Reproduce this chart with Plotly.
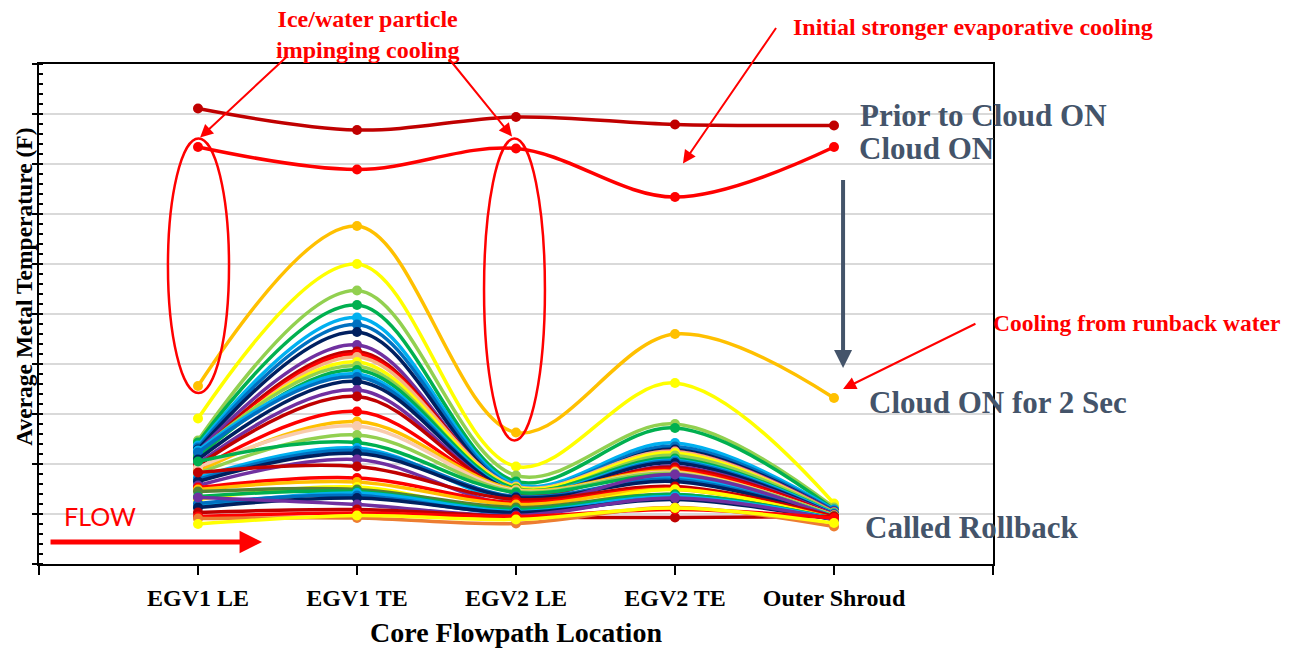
import plotly.graph_objects as go

# ---------------- data ----------------
categories = ["EGV1 LE", "EGV1 TE", "EGV2 LE", "EGV2 TE", "Outer Shroud"]

# one value per time step (series), oldest first; y units are relative (10 per gridline)
egv1_le = [91.1, 83.4, 35.6, 29.1, 24.7, 24.3, 23.7, 23.3, 22.9, 22.5,
           21.9, 21.3, 21.1, 21.9, 22.5, 21.5, 22.7, 22.3, 20.9, 20.1,
           19.7, 18.9, 18.5, 19.3, 18.1, 20.5, 17.3, 16.9, 16.5, 15.7,
           18.3, 15.3, 14.9, 12.9, 14.5, 13.5, 11.5, 12.1, 11.3, 13.3,
           10.3, 9.5, 9.1, 8.0]
egv1_te = [86.8, 78.9, 67.6, 60.0, 54.7, 51.8, 49.3, 47.9, 46.4, 43.8,
           42.5, 42.0, 41.4, 40.4, 39.6, 38.8, 38.0, 37.4, 36.5, 34.8,
           33.5, 30.5, 28.5, 27.6, 25.8, 24.3, 23.2, 22.7, 22.1, 20.9,
           19.5, 17.2, 16.4, 15.4, 14.9, 14.5, 14.2, 13.7, 13.2, 11.9,
           10.9, 10.2, 9.2, 9.7]
egv2_le = [89.4, 83.1, 26.3, 19.5, 17.7, 16.5, 15.9, 15.5, 15.1, 14.9,
           15.3, 15.1, 15.5, 15.3, 14.9, 15.1, 14.7, 14.5, 14.5, 14.1,
           14.3, 14.5, 14.9, 14.7, 14.5, 14.3, 12.7, 13.5, 13.3, 11.9,
           12.9, 12.3, 11.9, 10.3, 11.3, 10.9, 10.5, 10.1, 10.3, 9.7,
           9.5, 9.5, 8.1, 8.9]
egv2_te = [87.9, 73.4, 46.0, 36.2, 28.0, 27.2, 24.2, 23.5, 22.9, 22.5,
           22.5, 22.1, 22.5, 22.2, 21.7, 21.1, 20.7, 20.5, 20.2, 19.5,
           19.3, 18.9, 18.5, 18.3, 18.1, 17.7, 17.3, 16.9, 16.5, 17.9,
           15.5, 15.1, 14.9, 14.9, 13.9, 13.9, 13.5, 13.1, 12.9, 13.2,
           9.3, 10.9, 11.3, 11.2]
outer_shroud = [87.7, 83.4, 33.2, 12.1, 11.3, 10.9, 10.9, 10.7, 10.5, 10.5,
                10.3, 10.3, 10.3, 10.1, 10.3, 10.1, 10.1, 9.9, 9.9, 9.9,
                9.7, 9.7, 9.5, 9.7, 9.7, 9.5, 9.5, 9.3, 9.3, 9.3,
                9.5, 9.2, 9.1, 8.9, 9.1, 9.1, 9.1, 8.9, 8.9, 8.9,
                9.5, 9.2, 7.5, 8.2]

series_colors = [
    "#C00000", "#FF0000", "#FFC000", "#FFFF00", "#92D050", "#00B050", "#00B0F0", "#0070C0", "#002060", "#7030A0",
    "#C00000", "#FF0000", "#F4B183", "#FFFF00", "#92D050", "#00B050", "#00B0F0", "#0070C0", "#002060", "#7030A0",
    "#C00000", "#FF0000", "#FFC000", "#F8CBAD", "#92D050", "#00B050", "#00B0F0", "#0070C0", "#002060", "#7030A0",
    "#C00000", "#FF0000", "#FFC000", "#FFFF00", "#548235", "#00B050", "#00B0F0", "#0070C0", "#002060", "#7030A0",
    "#C00000", "#FF0000", "#ED7D31", "#FFFF00"]

# ---------------- figure ----------------
SERIF = "Liberation Serif"
SLATE = "#44546A"
RED = "#FF0000"

fig = go.Figure()
x_idx = list(range(len(categories)))
for i, col in enumerate(series_colors):
    yv = [egv1_le[i], egv1_te[i], egv2_le[i], egv2_te[i], outer_shroud[i]]
    fig.add_trace(go.Scatter(
        x=x_idx, y=yv, mode="lines+markers",
        line=dict(color=col, width=3.5, shape="spline", smoothing=1),
        marker=dict(color=col, size=10),
        name=f"t{i}", hoverinfo="y",
    ))

annotations = []
# axis title (y) placed as text, offset like reference
annotations.append(dict(
    text="Average Metal Temperature (F)", textangle=-90,
    xref="paper", x=-0.016, yref="paper", y=0.554, showarrow=False,
    font=dict(family=SERIF, size=23.5, color="black", weight="bold"),
    xanchor="center", yanchor="middle"))

# red commentary (above the plot area -> paper coords)
annotations.append(dict(
    text="Ice/water particle<br>impinging cooling", xref="paper", yref="paper",
    x=(1.063 + 1) / 6, y=1.059, xanchor="center", yanchor="middle",
    showarrow=False, align="center",
    font=dict(family=SERIF, size=24, color=RED, weight="bold")))
annotations.append(dict(
    text="Initial stronger evaporative cooling", xref="paper", yref="paper",
    x=(3.73 + 1) / 6, y=1.075, xanchor="left", yanchor="middle", showarrow=False,
    font=dict(family=SERIF, size=24, color=RED, weight="bold")))
annotations.append(dict(
    text="Cooling from runback water", xref="x", yref="y",
    x=4.987, y=48.2, xanchor="left", yanchor="middle", showarrow=False,
    font=dict(family=SERIF, size=23.5, color=RED, weight="bold")))
annotations.append(dict(
    text="FLOW", xref="x", yref="y", x=-0.855, y=9.6, xanchor="left",
    yanchor="middle", showarrow=False, font=dict(family="Lato", size=25, color=RED)))

# state labels at right
for txt, xx, yy in [("Prior to Cloud ON", 4.151, 89.7), ("Cloud ON", 4.145, 83.1),
                    ("Cloud ON for 2 Sec", 4.208, 32.4), ("Called Rollback", 4.182, 7.3)]:
    annotations.append(dict(
        text=txt, xref="x", yref="y", x=xx, y=yy, xanchor="left", yanchor="middle",
        showarrow=False, font=dict(family=SERIF, size=31, color=SLATE, weight="bold")))

# arrows
def arrow(x, y, ax, ay, color=RED, width=2, head=2, size=1.0):
    return dict(x=x, y=y, ax=ax, ay=ay, xref="x", yref="y", axref="x", ayref="y",
                text="", showarrow=True, arrowhead=head, arrowsize=size,
                arrowwidth=width, arrowcolor=color)

annotations += [
    arrow(0.013, 85.3, 0.566, 101.7, size=1.3),
    arrow(1.975, 85.5, 1.572, 101.3, size=1.3),
    arrow(3.05, 80.1, 3.642, 107.5, size=1.3),
    arrow(4.057, 35.0, 4.899, 48.2, size=1.3),
    arrow(0.403, 4.4, -0.937, 4.4, width=5, head=2, size=0.9),
    arrow(4.057, 39.2, 4.057, 77.1, color=SLATE, width=4, head=2, size=0.9),
]

shapes = [
    dict(type="circle", xref="x", yref="y", x0=-0.189, x1=0.195, y0=34.2, y1=85.1,
         line=dict(color=RED, width=2.5), fillcolor="rgba(0,0,0,0)", layer="above"),
    dict(type="circle", xref="x", yref="y", x0=1.799, x1=2.182, y0=24.7, y1=85.1,
         line=dict(color=RED, width=2.5), fillcolor="rgba(0,0,0,0)", layer="above"),
]

fig.update_layout(
    width=1290, height=648,
    margin=dict(l=39, r=297, t=64, b=84, autoexpand=False),
    paper_bgcolor="white", plot_bgcolor="white",
    showlegend=False,
    annotations=annotations, shapes=shapes,
    xaxis=dict(
        range=[-1, 5], tickmode="array", tickvals=[-1, 0, 1, 2, 3, 4, 5],
        ticktext=[""] + categories + [""], automargin=False,
        ticks="outside", ticklen=9, tickwidth=1.5, tickcolor="black",
        showline=True, linecolor="black", linewidth=1.5, mirror=True,
        showgrid=False, zeroline=False, ticklabelstandoff=2,
        tickfont=dict(family=SERIF, size=24, color="black", weight="bold"),
        title=dict(text="Core Flowpath Location", standoff=26,
                   font=dict(family=SERIF, size=28, color="black", weight="bold")),
    ),
    yaxis=dict(
        range=[0, 100], dtick=10, showticklabels=False, automargin=False,
        ticks="outside", ticklen=5, tickwidth=1.5, tickcolor="black",
        showline=True, linecolor="black", linewidth=1.5, mirror=True,
        showgrid=True, gridcolor="#D9D9D9", gridwidth=1.5, zeroline=False,
        minor=dict(dtick=2, ticks="inside", ticklen=4, tickcolor="black", showgrid=False),
    ),
)

fig.write_html("out.html", config={"displayModeBar": False},
               post_script="document.body.style.margin='0px';")
